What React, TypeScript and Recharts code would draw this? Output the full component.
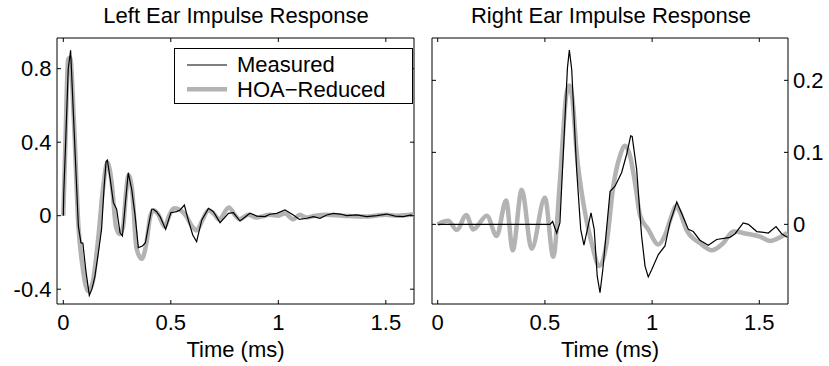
import { LineChart, Line, XAxis, YAxis, ReferenceArea, Legend, Label } from "recharts";

const FONT = '"Liberation Sans", Arial, Helvetica, sans-serif';
const GRAY = "#b3b3b3";
const FS = 22;

// [time (ms), amplitude]
const leftMeasured: [number, number][] = [
  [0, 0], [0.002, 0.12], [0.011, 0.4], [0.023, 0.8], [0.034, 0.9], [0.052, 0.42], [0.07, -0.056],
  [0.082, -0.147], [0.091, -0.15], [0.105, -0.3], [0.121, -0.434], [0.133, -0.4], [0.147, -0.33],
  [0.162, -0.21], [0.178, -0.074], [0.19, 0.16], [0.199, 0.295], [0.205, 0.303], [0.218, 0.2],
  [0.233, 0.071], [0.248, 0.035], [0.264, -0.093], [0.275, -0.11], [0.288, 0.06], [0.302, 0.234],
  [0.318, 0.144], [0.334, 0.0], [0.349, -0.174], [0.368, -0.165], [0.382, -0.147], [0.397, -0.05],
  [0.411, 0.035], [0.419, 0.035], [0.434, 0.022], [0.45, -0.005], [0.476, -0.074], [0.5, 0.016],
  [0.527, 0.022], [0.543, 0.031], [0.563, 0.058], [0.581, -0.023], [0.602, -0.105], [0.62, -0.141],
  [0.644, -0.023], [0.675, 0.04], [0.698, 0.022], [0.729, -0.038], [0.768, 0.013], [0.791, 0.016],
  [0.822, -0.029], [0.868, 0.013], [0.9, -0.002], [0.938, -0.005], [0.961, 0.008], [0.993, 0.013],
  [1.031, 0.031], [1.07, 0.004], [1.098, -0.02], [1.132, -0.014], [1.163, -0.005], [1.194, -0.014],
  [1.225, 0.004], [1.256, 0.013], [1.287, 0.009], [1.318, 0.0], [1.365, 0.004], [1.411, -0.005],
  [1.458, 0], [1.504, 0.009], [1.543, -0.002], [1.581, -0.005], [1.62, 0.004],
];

const leftReduced: [number, number][] = [
  [0, 0], [0.011, 0.45], [0.022, 0.85], [0.032, 0.86], [0.05, 0.5], [0.07, -0.05], [0.09, -0.28],
  [0.115, -0.41], [0.135, -0.37], [0.16, -0.15], [0.185, 0.15], [0.205, 0.29], [0.225, 0.18],
  [0.245, -0.06], [0.262, -0.1], [0.278, -0.06], [0.29, 0.1], [0.303, 0.22], [0.32, 0.14],
  [0.341, -0.18], [0.365, -0.235], [0.385, -0.16], [0.405, 0.0], [0.42, 0.03], [0.44, 0.01],
  [0.472, -0.06], [0.492, 0.0], [0.515, 0.04], [0.545, 0.03], [0.57, 0.0], [0.6, -0.06],
  [0.62, -0.08], [0.645, -0.03], [0.675, 0.03], [0.7, 0.01], [0.725, -0.02], [0.77, 0.045],
  [0.8, 0.0], [0.82, -0.02], [0.86, 0.005], [0.9, -0.01], [0.96, 0.005], [1.0, 0.0], [1.03, 0.012],
  [1.07, -0.02], [1.1, 0.005], [1.13, -0.01], [1.17, 0.0], [1.22, 0.005], [1.3, 0.0], [1.4, -0.005],
  [1.5, 0.005], [1.55, 0.0], [1.63, 0.008],
];

const rightMeasured: [number, number][] = [
  [0, 0], [0.524, 0], [0.536, 0.004], [0.555, -0.012], [0.57, 0.002], [0.605, 0.217], [0.614, 0.242],
  [0.625, 0.215], [0.648, 0.076], [0.667, -0.007], [0.682, -0.029], [0.715, 0.016], [0.73, -0.007],
  [0.744, -0.072], [0.757, -0.095], [0.77, -0.063], [0.804, 0.046], [0.827, 0.053], [0.858, 0.072],
  [0.881, 0.097], [0.9, 0.123], [0.907, 0.122], [0.928, 0.076], [0.951, -0.016], [0.967, -0.058],
  [0.982, -0.073], [0.998, -0.063], [1.029, -0.042], [1.06, -0.03], [1.083, 0.002], [1.115, 0.031],
  [1.138, 0.015], [1.169, -0.007], [1.192, -0.01], [1.223, -0.022], [1.262, -0.029], [1.301, -0.021],
  [1.363, -0.018], [1.387, -0.013], [1.425, 0.002], [1.449, 0], [1.488, -0.01], [1.542, -0.012],
  [1.578, -0.003], [1.604, -0.013], [1.63, -0.018],
];

const rightReduced: [number, number][] = [
  [0, 0], [0.02, 0.003], [0.049, 0.005], [0.089, -0.008], [0.133, 0.013], [0.166, -0.007],
  [0.229, 0.012], [0.275, -0.016], [0.319, 0.033], [0.35, -0.036], [0.392, 0.048], [0.438, -0.034],
  [0.5, 0.037], [0.539, -0.045], [0.57, 0.06], [0.6, 0.18], [0.614, 0.193], [0.628, 0.175],
  [0.648, 0.1], [0.679, 0.03], [0.718, -0.026], [0.754, -0.058], [0.788, -0.026], [0.819, 0.053],
  [0.85, 0.095], [0.874, 0.109], [0.897, 0.095], [0.92, 0.058], [0.944, 0.012], [0.982, -0.007],
  [1.029, -0.028], [1.06, -0.015], [1.091, 0.012], [1.11, 0.025], [1.125, 0.02], [1.161, -0.008],
  [1.223, -0.026], [1.278, -0.036], [1.332, -0.026], [1.379, -0.01], [1.441, -0.013], [1.503, -0.017],
  [1.55, -0.023], [1.597, -0.018], [1.63, -0.012],
];

const timeTicks = [0, 0.5, 1, 1.5];
const leftAmpTicks = [-0.4, 0, 0.4, 0.8];
const rightAmpTicks = [0, 0.1, 0.2];

const leftXDomain = [-0.0293, 1.631];
const leftYDomain = [-0.4806, 0.967];
const rightXDomain = [-0.0266, 1.6338];
const rightYDomain = [-0.1106, 0.2588];

const rows = (pts: [number, number][]) => pts.map(([t, v]) => ({ t, v }));

const PLOT_TOP = 38;

const XTick = (p: any) => (
  <g>
    <line x1={p.x} x2={p.x} y1={p.y} y2={p.y - 4} stroke="#000" />
    <line x1={p.x} x2={p.x} y1={PLOT_TOP} y2={PLOT_TOP + 4} stroke="#000" />
    <text x={p.x} y={p.y + 26} textAnchor="middle" fontSize={FS} fontFamily={FONT} fill="#000">
      {p.payload.value}
    </text>
  </g>
);

const YTickLeft = (p: any) => (
  <g>
    <line x1={p.x} x2={p.x + 4} y1={p.y} y2={p.y} stroke="#000" />
    <line x1={p.far} x2={p.far - 4} y1={p.y} y2={p.y} stroke="#000" />
    <text x={p.x - 5.5} y={p.y + 7.8} textAnchor="end" fontSize={FS} fontFamily={FONT} fill="#000">
      {p.payload.value}
    </text>
  </g>
);

const YTickRight = (p: any) => (
  <g>
    <line x1={p.x} x2={p.x - 4} y1={p.y} y2={p.y} stroke="#000" />
    <line x1={p.far} x2={p.far + 4} y1={p.y} y2={p.y} stroke="#000" />
    <text x={p.x + 5} y={p.y + 7.8} textAnchor="start" fontSize={FS} fontFamily={FONT} fill="#000">
      {p.payload.value}
    </text>
  </g>
);

const LegendBox = () => (
  <div style={{ width: 239, height: 56, boxSizing: "border-box", border: "1px solid #000", background: "#fff" }}>
    <svg width={237} height={54} style={{ display: "block" }}>
      <line x1={12} x2={52} y1={16} y2={16} stroke="#000" strokeWidth={1.2} />
      <line x1={12} x2={52} y1={40.3} y2={40.3} stroke={GRAY} strokeWidth={4.5} />
      <text x={62} y={22.5} fontSize={FS} fontFamily={FONT} fill="#000">Measured</text>
      <text x={62} y={48} fontSize={FS} fontFamily={FONT} fill="#000">HOA−Reduced</text>
    </svg>
  </div>
);

const timeLabel = (
  <Label value="Time (ms)" position="insideBottom" offset={9.5} fill="#000" fontSize={FS} fontFamily={FONT} />
);

export default function App() {
  return (
    <div style={{ position: "absolute", left: 0, top: 0, width: 829, height: 366, background: "#fff" }}>
      <div style={{ position: "absolute", left: 0, top: 0 }}>
        <LineChart width={420} height={366} margin={{ top: PLOT_TOP, right: 6, bottom: 0, left: 0 }}>
          <XAxis
            dataKey="t"
            type="number"
            domain={leftXDomain}
            allowDataOverflow
            ticks={timeTicks}
            tickSize={0}
            tickMargin={0}
            axisLine={false}
            tickLine={false}
            height={62}
            tick={(p: any) => <XTick {...p} />}
            label={timeLabel}
          />
          <YAxis
            type="number"
            domain={leftYDomain}
            allowDataOverflow
            ticks={leftAmpTicks}
            tickSize={0}
            tickMargin={0}
            axisLine={false}
            tickLine={false}
            width={57}
            tick={(p: any) => <YTickLeft {...p} far={414} />}
          />
          <ReferenceArea
            x1={leftXDomain[0]}
            x2={leftXDomain[1]}
            y1={leftYDomain[0]}
            y2={leftYDomain[1]}
            fill="none"
            stroke="#000"
            strokeWidth={1}
            ifOverflow="visible"
          />
          <Line
            data={rows(leftReduced)}
            dataKey="v"
            name="HOA−Reduced"
            type="monotone"
            stroke={GRAY}
            strokeWidth={4.5}
            dot={false}
            isAnimationActive={false}
          />
          <Line
            data={rows(leftMeasured)}
            dataKey="v"
            name="Measured"
            type="linear"
            stroke="#000"
            strokeWidth={1.2}
            dot={false}
            isAnimationActive={false}
          />
          <Legend
            layout="vertical"
            align="center"
            verticalAlign="middle"
            content={<LegendBox />}
            wrapperStyle={{ left: 174, top: 48, width: 239, height: 56 }}
          />
        </LineChart>
      </div>
      <div style={{ position: "absolute", left: 420, top: 0 }}>
        <LineChart width={409} height={366} margin={{ top: PLOT_TOP, right: 0, bottom: 0, left: 12 }}>
          <XAxis
            dataKey="t"
            type="number"
            domain={rightXDomain}
            allowDataOverflow
            ticks={timeTicks}
            tickSize={0}
            tickMargin={0}
            axisLine={false}
            tickLine={false}
            height={62}
            tick={(p: any) => <XTick {...p} />}
            label={timeLabel}
          />
          <YAxis
            type="number"
            orientation="right"
            domain={rightYDomain}
            allowDataOverflow
            ticks={rightAmpTicks}
            tickSize={0}
            tickMargin={0}
            axisLine={false}
            tickLine={false}
            width={41}
            tick={(p: any) => <YTickRight {...p} far={12} />}
          />
          <ReferenceArea
            x1={rightXDomain[0]}
            x2={rightXDomain[1]}
            y1={rightYDomain[0]}
            y2={rightYDomain[1]}
            fill="none"
            stroke="#000"
            strokeWidth={1}
            ifOverflow="visible"
          />
          <Line
            data={rows(rightReduced)}
            dataKey="v"
            type="monotone"
            stroke={GRAY}
            strokeWidth={4.5}
            dot={false}
            isAnimationActive={false}
          />
          <Line
            data={rows(rightMeasured)}
            dataKey="v"
            type="linear"
            stroke="#000"
            strokeWidth={1.2}
            dot={false}
            isAnimationActive={false}
          />
        </LineChart>
      </div>
      <svg width={829} height={30} style={{ position: "absolute", left: 0, top: 0 }}>
        <text x={236} y={22.5} textAnchor="middle" fontSize={FS} fontFamily={FONT} fill="#000">
          Left Ear Impulse Response
        </text>
        <text x={611} y={22.5} textAnchor="middle" fontSize={FS} fontFamily={FONT} fill="#000">
          Right Ear Impulse Response
        </text>
      </svg>
    </div>
  );
}
